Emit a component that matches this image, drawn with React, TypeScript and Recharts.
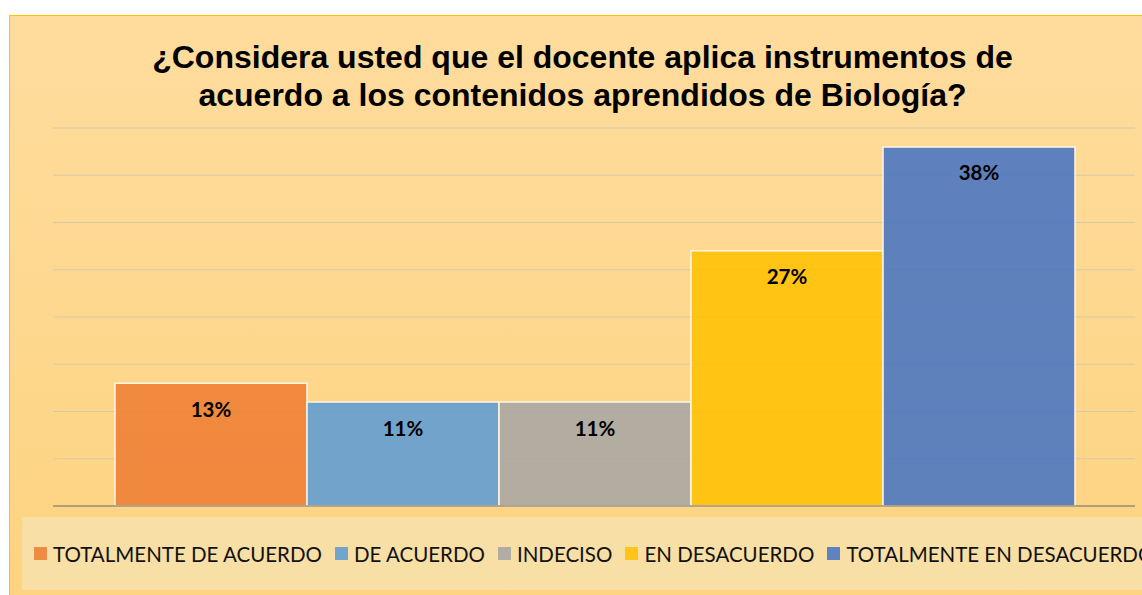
import { BarChart, Bar, XAxis, YAxis, CartesianGrid, LabelList, ReferenceLine } from "recharts";

const TITLE_LINES = [
  "¿Considera usted que el docente aplica instrumentos de",
  "acuerdo a los contenidos aprendidos de Biología?",
];
const SERIES_NAMES = [
  "TOTALMENTE DE ACUERDO",
  "DE ACUERDO",
  "INDECISO",
  "EN DESACUERDO",
  "TOTALMENTE EN DESACUERDO",
];
const SERIES_VALUES = [0.13, 0.11, 0.11, 0.27, 0.38];
const SERIES_COLORS = ["#ED7D31", "#5B9BD5", "#A5A5A5", "#FFC000", "#4472C4"];
const Y_TICKS = [0, 0.05, 0.1, 0.15, 0.2, 0.25, 0.3, 0.35, 0.4];

const row: Record<string, string | number> = { name: "" };
SERIES_VALUES.forEach((v, i) => {
  row["s" + i] = v;
});
const data = [row];

const pct = (v: any) => `${Math.round(Number(v) * 100)}%`;

function LegendBox() {
  return (
    <div
      style={{
        position: "absolute",
        left: 22,
        top: 517,
        width: 1140,
        height: 73,
        background: "#F8DFA6",
        display: "flex",
        alignItems: "center",
        paddingLeft: 12,
        boxSizing: "border-box",
        fontFamily: "Lato, 'Open Sans', sans-serif",
        fontSize: 20.5,
        color: "#111",
        whiteSpace: "nowrap",
        overflow: "hidden",
      }}
    >
      {SERIES_NAMES.map((n, i) => (
        <span key={n} style={{ display: "inline-flex", alignItems: "center", marginRight: 13 }}>
          <span
            style={{
              display: "inline-block",
              width: 13,
              height: 13,
              background: SERIES_COLORS[i],
              opacity: 0.85,
              marginRight: 6,
            }}
          />
          {n}
        </span>
      ))}
    </div>
  );
}

export default function App() {
  return (
    <div style={{ position: "absolute", left: 0, top: 0, width: 1142, height: 595, overflow: "hidden", background: "#fff" }}>
      <div
        style={{
          position: "absolute",
          left: 9,
          top: 15,
          width: 1150,
          height: 600,
          border: "1.5px solid #FFC000",
          background: "linear-gradient(180deg, #FEDC9D 0%, #FED78C 60%, #FED37E 100%)",
          boxSizing: "border-box",
        }}
      />
      <div
        style={{
          position: "absolute",
          left: 0,
          top: 38,
          width: 1165,
          textAlign: "center",
          fontFamily: "'Liberation Sans', Arial, sans-serif",
          fontWeight: 700,
          fontSize: 32,
          lineHeight: "38px",
          color: "#000",
        }}
      >
        {TITLE_LINES.map((t) => (
          <div key={t}>{t}</div>
        ))}
      </div>
      <div style={{ position: "absolute", left: 0, top: 0 }}>
        <BarChart
          width={1142}
          height={595}
          data={data}
          margin={{ top: 128, right: 7, bottom: 89, left: 53 }}
          barGap={0}
          barCategoryGap={62}
        >
          <CartesianGrid vertical={false} stroke="#D6C8A8" strokeWidth={1.2} />
          <XAxis dataKey="name" hide />
          <YAxis hide domain={[0, 0.4]} ticks={Y_TICKS} />
          {SERIES_NAMES.map((n, i) => (
            <Bar
              key={n}
              dataKey={"s" + i}
              name={n}
              fill={SERIES_COLORS[i]}
              fillOpacity={0.86}
              stroke="#FFF6E6"
              strokeWidth={1.5}
              isAnimationActive={false}
            >
              <LabelList
                dataKey={"s" + i}
                position="insideTop"
                offset={19}
                formatter={pct}
                style={{ fontFamily: "Lato, 'Open Sans', sans-serif", fontWeight: 700, fontSize: 20.5, fill: "#000" }}
              />
            </Bar>
          ))}
          <ReferenceLine y={0} stroke="#9A8E76" strokeWidth={1.5} />
        </BarChart>
      </div>
      <LegendBox />
    </div>
  );
}
